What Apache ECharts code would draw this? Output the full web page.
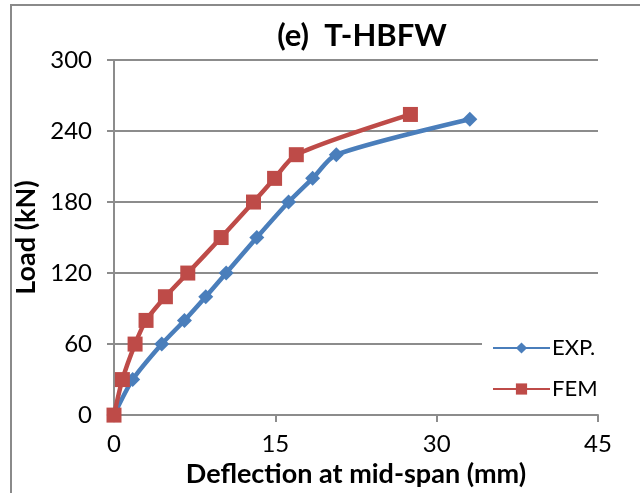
<!DOCTYPE html>
<html>
<head>
<meta charset="utf-8">
<script src="https://cdn.jsdelivr.net/npm/echarts@6/dist/echarts.min.js"></script>
<style>
html,body{margin:0;padding:0;background:#fff;}
#c{width:640px;height:493px;}
</style>
</head>
<body>
<div id="c"></div>
<script>
var titleText = '(e)  T-HBFW';
var xTitle = 'Deflection at mid-span (mm)';
var yTitle = 'Load (kN)';
var seriesNames = ['EXP.', 'FEM'];
var expDefl = [0, 1.74, 4.44, 6.55, 8.53, 10.43, 13.28, 16.23, 18.47, 20.67, 33.08];
var expLoad = [0, 30, 60, 80, 100, 120, 150, 180, 200, 220, 250];
var femDefl = [0, 0.78, 1.96, 2.98, 4.78, 6.86, 9.96, 12.97, 14.93, 16.95, 27.56];
var femLoad = [0, 30, 60, 80, 100, 120, 150, 180, 200, 220, 254];
var xMin = 0, xMax = 45, xStep = 15;
var yMin = 0, yMax = 300, yStep = 60;

function pairs(xs, ys){ return xs.map(function(v,i){ return [v, ys[i]]; }); }

var font = 'Lato, "Open Sans", sans-serif';
var gridColor = '#8c8c8c';
var chart = echarts.init(document.getElementById('c'), null, {renderer:'canvas'});
chart.setOption({
  animation:false,
  backgroundColor:'#fff',
  graphic:[{
    type:'rect', shape:{x:11, y:5, width:700, height:600},
    style:{fill:'none', stroke:'#8a8a8a', lineWidth:2}, z:-10
  }],
  title:{
    text:titleText, left:357, top:15, textAlign:'center',
    textStyle:{fontFamily:font, fontWeight:'bold', fontSize:31, color:'#000'}
  },
  grid:{left:114, right:42, top:60, bottom:75},
  legend:{
    orient:'vertical', left:482, top:333,
    padding:[4,6,6,10], itemGap:19,
    itemWidth:57, itemHeight:14,
    backgroundColor:'#fff',
    textStyle:{fontFamily:font, fontSize:22, color:'#000', padding:[0,0,0,-3]},
    data:seriesNames
  },
  xAxis:{
    type:'value', min:xMin, max:xMax, interval:xStep,
    name:xTitle, nameLocation:'middle', nameGap:40,
    nameTextStyle:{fontFamily:font, fontWeight:'bold', fontSize:27, color:'#000'},
    axisLine:{show:true, lineStyle:{color:gridColor, width:2}},
    axisTick:{show:true, length:7, inside:false, lineStyle:{color:gridColor, width:2}},
    axisLabel:{fontFamily:font, fontSize:24, color:'#000', margin:17},
    splitLine:{show:false}
  },
  yAxis:{
    type:'value', min:yMin, max:yMax, interval:yStep,
    name:yTitle, nameLocation:'middle', nameGap:68, nameRotate:90,
    nameTextStyle:{fontFamily:font, fontWeight:'bold', fontSize:27, color:'#000'},
    axisLine:{show:true, lineStyle:{color:gridColor, width:2}},
    axisTick:{show:true, length:7, inside:false, lineStyle:{color:gridColor, width:2}},
    axisLabel:{fontFamily:font, fontSize:24, color:'#000', margin:22},
    splitLine:{show:true, lineStyle:{color:gridColor, width:2}}
  },
  series:[
    {
      name:seriesNames[0], type:'line', data:pairs(expDefl, expLoad),
      smooth:0.25, symbol:'diamond', symbolSize:15,
      lineStyle:{color:'#4A7EBB', width:4.5},
      itemStyle:{color:'#4A7EBB'}, z:3
    },
    {
      name:seriesNames[1], type:'line', data:pairs(femDefl, femLoad),
      smooth:0.25, symbol:'rect', symbolSize:15,
      lineStyle:{color:'#BE4B48', width:4.5},
      itemStyle:{color:'#BE4B48'}, z:4
    }
  ]
});
</script>
</body>
</html>
